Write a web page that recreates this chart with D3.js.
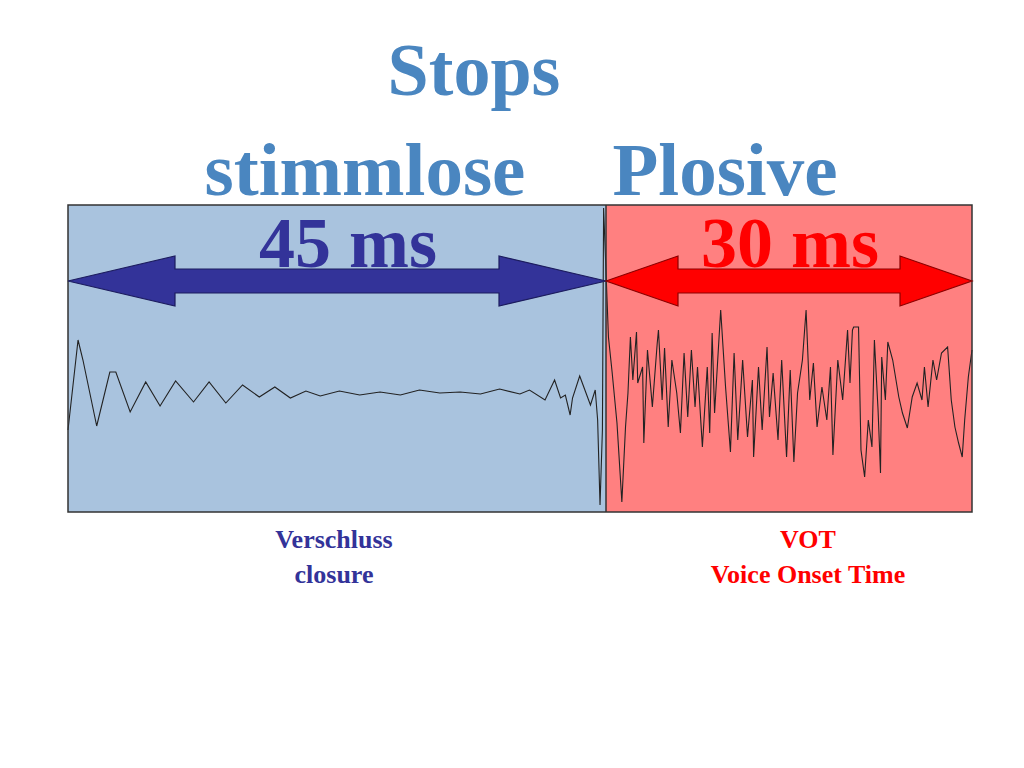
<!DOCTYPE html>
<html>
<head>
<meta charset="utf-8">
<script src="https://cdn.jsdelivr.net/npm/d3@7"></script>
<style>
  body { margin: 0; background: #fff; }
  text { font-family: "Liberation Serif", serif; font-weight: bold; }
</style>
</head>
<body>
<div id="chart"></div>
<script>
var w = 1024
var h = 768

// segments in ms
var segments = [
  {name: "closure", from: 0, to: 45, label: "45 ms", sub: ["Verschluss", "closure"]},
  {name: "vot", from: 45, to: 75, label: "30 ms", sub: ["VOT", "Voice Onset Time"]}
]

// waveform: time (ms) and amplitude (arbitrary units)
var closureT = [0, 0.84, 1.25, 2.4, 3.5, 4.0, 5.2, 6.5, 7.7, 9.0, 10.5, 11.8, 13.2, 14.6, 16.0, 17.3, 18.6, 19.9, 21.1, 22.7, 24.4, 26.1, 27.8, 29.4, 31.1, 32.8, 34.5, 36.1, 37.8, 38.6, 39.9, 40.7, 41.2, 41.6, 42.0, 42.2, 42.8, 43.7, 44.1, 44.3, 44.5, 44.7, 44.8]
var closureA = [-37, 53, 33, -33, 21, 21, -19, 11, -13, 12, -9, 11, -10, 8, -4, 6, -5, 2, -3, 2, -2, 1, -2, 3, 0, 1, -1, 4, -1, 3, -7, 13, -5, -2, -22, -5, 17, -12, 3, -27, -112, -37, 185]

var votT = [45.2, 45.5, 45.9, 46.3, 46.6, 46.8, 47.0, 47.2, 47.5, 47.6, 48.0, 48.1, 48.4, 48.8, 49.2, 49.3, 49.6, 49.8, 50.1, 50.4, 50.8, 51.1, 51.4, 51.7, 52.0, 52.3, 52.5, 52.9, 53.3, 53.5, 53.7, 53.9, 54.4, 54.8, 55.2, 55.5, 55.8, 56.2, 56.6, 57.0, 57.1, 57.5, 57.8, 58.2, 58.4, 58.7, 59.1, 59.4, 59.8, 60.1, 60.4, 60.7, 61.1, 61.4, 61.7, 62.0, 62.3, 62.7, 63.1, 63.4, 63.6, 64.0, 64.4, 64.8, 65.0, 65.2, 65.3, 65.7, 65.9, 66.2, 66.5, 66.8, 67.0, 67.3, 67.5, 67.6, 67.9, 68.1, 68.5, 69.0, 69.3, 69.7, 70.1, 70.5, 70.9, 71.1, 71.4, 71.8, 72.1, 72.5, 73.0, 73.3, 73.6, 73.9, 74.2, 74.4, 74.7, 75.0]
var votA = [56, 21, -30, -109, -34, 0, 56, 13, 61, 10, 26, -50, 43, -14, 50, 63, -7, 45, -34, 33, 0, -40, 40, -24, 43, -14, 26, -54, 26, -40, 60, -20, 83, 6, -59, 40, -47, 33, -44, 13, -64, 26, -37, 46, -24, 20, -47, 33, -64, 23, -69, 0, 33, 83, -7, 30, -34, 6, -27, 26, -62, 33, -7, 63, 10, 63, 66, 66, -57, -84, -27, -54, 53, -17, -80, 36, -7, 51, 33, -4, -20, -35, -4, 10, -7, 26, -14, 33, 13, 40, 46, -7, -34, -50, -64, -27, 16, 43]

var title = "Stops"
var subtitle = ["stimmlose", "Plosive"]

var svg = d3.select("#chart").append("svg")
  .attr("width", w)
  .attr("height", h)

var boxTop = 205, boxBottom = 512
var x = d3.scaleLinear().domain([0, 45, 75]).range([68, 606, 972])
var y = d3.scaleLinear().domain([-120, 120]).range([513, 273])

var bg = {closure: "#a9c3de", vot: "#ff8080"}
var fg = {closure: "#333399", vot: "#ff0000"}
var edge = {closure: "#1c1c5e", vot: "#8b0000"}

svg.selectAll("rect.seg").data(segments).enter()
  .append("rect")
  .attr("x", function(d) { return x(d.from) })
  .attr("y", boxTop)
  .attr("width", function(d) { return x(d.to) - x(d.from) })
  .attr("height", boxBottom - boxTop)
  .attr("fill", function(d) { return bg[d.name] })

// waveform
var line = d3.line().x(function(d) { return x(d[0]) }).y(function(d) { return y(d[1]) })
var pts = closureT.map(function(t, i) { return [t, closureA[i]] })
  .concat(votT.map(function(t, i) { return [t, votA[i]] }))
svg.append("path")
  .attr("d", line(pts))
  .attr("fill", "none")
  .attr("stroke", "#222")
  .attr("stroke-width", 1.1)

svg.append("rect")
  .attr("x", x(0)).attr("y", boxTop)
  .attr("width", x(75) - x(0)).attr("height", boxBottom - boxTop)
  .attr("fill", "none").attr("stroke", "#333").attr("stroke-width", 1.5)
svg.append("line")
  .attr("x1", x(45)).attr("x2", x(45)).attr("y1", boxTop).attr("y2", boxBottom)
  .attr("stroke", "#333").attr("stroke-width", 1.5)

// double arrows
function arrow(x0, x1, cy, head) {
  var s = 12, hh = 25
  return [[x0, cy], [x0 + head, cy - hh], [x0 + head, cy - s], [x1 - head, cy - s], [x1 - head, cy - hh],
    [x1, cy], [x1 - head, cy + hh], [x1 - head, cy + s], [x0 + head, cy + s], [x0 + head, cy + hh]]
}
svg.selectAll("polygon.arrow").data(segments).enter()
  .append("polygon")
  .attr("points", function(d) {
    var a = x(d.from), b = x(d.to)
    var head = d.name == "closure" ? 107 : 72
    return arrow(a, b, 281, head).join(" ")
  })
  .attr("fill", function(d) { return fg[d.name] })
  .attr("stroke", function(d) { return edge[d.name] })
  .attr("stroke-width", 1.2)

svg.selectAll("text.ms").data(segments).enter()
  .append("text")
  .attr("x", function(d) { return d.name == "closure" ? 348 : 790 })
  .attr("y", 267)
  .attr("text-anchor", "middle")
  .attr("font-size", 72)
  .attr("fill", function(d) { return fg[d.name] })
  .text(function(d) { return d.label })

segments.forEach(function(d) {
  var cx = d.name == "closure" ? 334 : 808
  d.sub.forEach(function(s, i) {
    svg.append("text")
      .attr("x", cx).attr("y", 548 + i * 35)
      .attr("text-anchor", "middle")
      .attr("font-size", 26)
      .attr("fill", fg[d.name])
      .text(s)
  })
})

var titleColor = "#4a86c0"
svg.append("text").attr("x", 474).attr("y", 95).attr("text-anchor", "middle")
  .attr("font-size", 74).attr("fill", titleColor).text(title)
svg.append("text").attr("x", 365).attr("y", 195).attr("text-anchor", "middle")
  .attr("font-size", 75).attr("fill", titleColor).text(subtitle[0])
svg.append("text").attr("x", 725).attr("y", 195).attr("text-anchor", "middle")
  .attr("font-size", 75).attr("fill", titleColor).text(subtitle[1])
</script>
</body>
</html>
